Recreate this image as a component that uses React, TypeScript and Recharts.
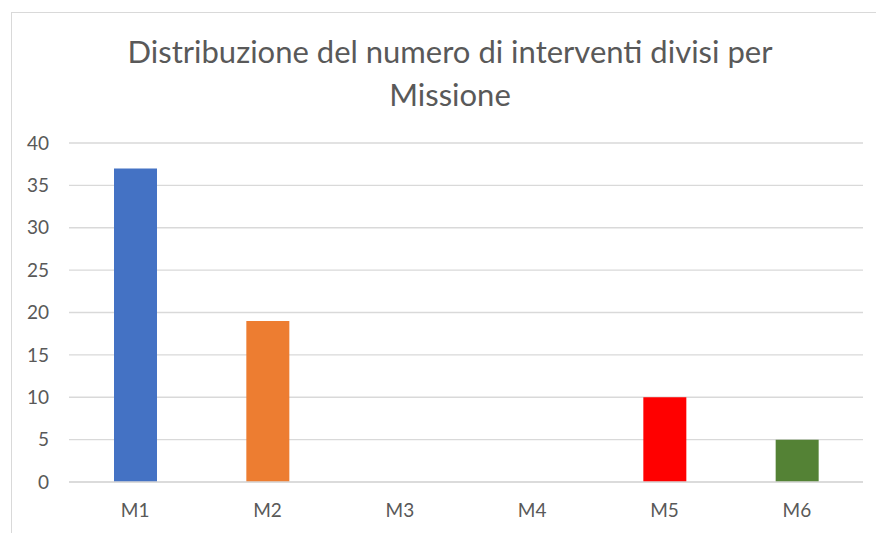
import React from 'react';
import { BarChart, Bar, XAxis, YAxis, CartesianGrid, Cell } from 'recharts';

const missions = ['M1', 'M2', 'M3', 'M4', 'M5', 'M6'];
const interventi = [37, 19, 0, 0, 10, 5];
const barColors = ['#4472C4', '#ED7D31', '#A5A5A5', '#FFC000', '#FF0000', '#548235'];
const yTicks = [0, 5, 10, 15, 20, 25, 30, 35, 40];

const data = missions.map((m, i) => ({ name: m, value: interventi[i] }));

const font = 'Lato, "Open Sans", sans-serif';

const App: React.FC = () => {
  return (
    <div style={{ position: 'absolute', left: 0, top: 0, width: 876, height: 533, overflow: 'hidden', background: '#fff' }}>
      {/* chart frame, runs off the right and bottom edges */}
      <div style={{ position: 'absolute', left: 11, top: 12, width: 900, height: 600, border: '1px solid #d9d9d9', boxSizing: 'border-box' }} />
      <div
        style={{
          position: 'absolute', left: 0, top: 30, width: 900, textAlign: 'center',
          fontFamily: font, fontSize: 31, lineHeight: '43px', color: '#595959',
        }}
      >
        Distribuzione del numero di interventi divisi per<br />Missione
      </div>
      <div style={{ position: 'absolute', left: 0, top: 0 }}>
        <BarChart width={876} height={533} data={data} margin={{ top: 143, right: 13, bottom: 21, left: 0 }}>
          <CartesianGrid vertical={false} stroke="#d9d9d9" strokeWidth={1.3} />
          <XAxis
            dataKey="name"
            height={30}
            axisLine={{ stroke: '#d9d9d9', strokeWidth: 1.3 }}
            tickLine={false}
            tickSize={0}
            tickMargin={22}
            tick={{ fill: '#595959', fontSize: 19, fontFamily: font }}
          />
          <YAxis
            width={69}
            domain={[0, 40]}
            ticks={yTicks}
            axisLine={false}
            tickLine={false}
            tickSize={0}
            tickMargin={20}
            tick={{ fill: '#595959', fontSize: 19, fontFamily: font }}
          />
          <Bar dataKey="value" barSize={43} isAnimationActive={false}>
            {data.map((d, i) => (
              <Cell key={d.name} fill={barColors[i]} />
            ))}
          </Bar>
        </BarChart>
      </div>
    </div>
  );
};

export default App;
